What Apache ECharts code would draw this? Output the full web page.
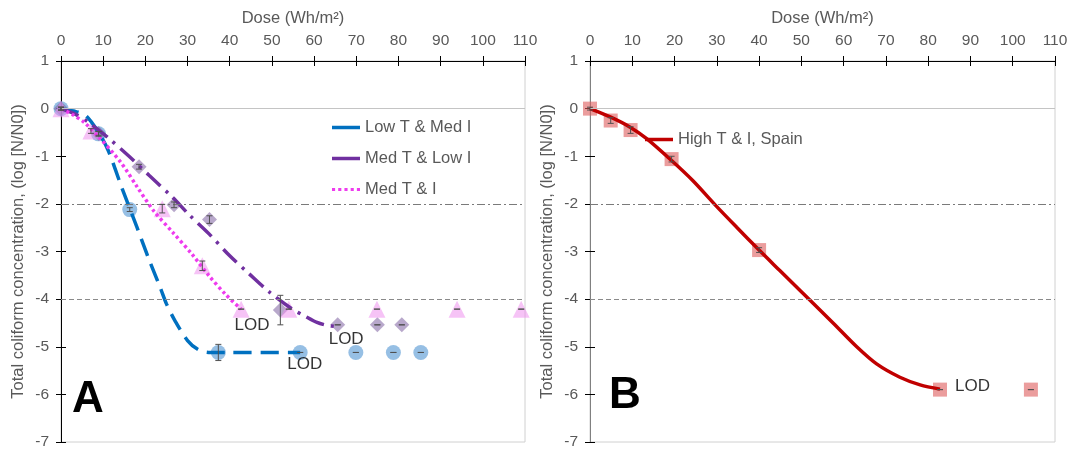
<!DOCTYPE html>
<html><head><meta charset="utf-8">
<script src="https://cdn.jsdelivr.net/npm/echarts@6/dist/echarts.min.js"></script>
<style>html,body{margin:0;padding:0;background:#fff}#c{width:1071px;height:450px}</style>
</head><body><div id="c"></div>
<script>
// ---------- axis settings ----------
const xMin = 0, xMax = 110, xStep = 10;
const yMin = -7, yMax = 1, yStep = 1;
const xName = 'Dose (Wh/m²)';
const yName = 'Total coliform concentration, (log [N/N0])';

// ---------- Panel A : measured points ----------
const lowX = [0, 8.9, 16.3, 37.3, 56.7, 69.9, 78.8, 85.3];
const lowY = [0, -0.53, -2.12, -5.12, -5.12, -5.12, -5.12, -5.12];
const lowErr = [0.03, 0.05, 0.04, 0.17, 0.0, 0.0, 0.0, 0.0];

const medLowX = [0, 8.9, 18.5, 26.8, 35.2, 52.0, 65.6, 75.0, 80.8];
const medLowY = [0, -0.52, -1.22, -2.02, -2.33, -4.23, -4.54, -4.54, -4.54];
const medLowErr = [0.03, 0.04, 0.05, 0.06, 0.08, 0.31, 0.0, 0.0, 0.0];

const medX = [0, 7.1, 24.0, 33.5, 42.7, 54.0, 74.9, 93.9, 109.1];
const medY = [0, -0.47, -2.1, -3.3, -4.21, -4.21, -4.21, -4.21, -4.21];
const medErr = [0.03, 0.05, 0.09, 0.1, 0.0, 0.0, 0.0, 0.0, 0.0];

// ---------- Panel A : fitted curves ----------
const lowFitX = [0, 3, 5.8, 8.9, 11.2, 14.5, 18, 21, 23.5, 25, 27, 30, 32.5, 35, 40, 56.7];
const lowFitY = [0, -0.05, -0.14, -0.5, -0.88, -1.68, -2.49, -3.2, -3.75, -4.1, -4.45, -4.87, -5.06, -5.12, -5.12, -5.12];

const medLowFitX = [0, 3.5, 7, 11, 16, 21, 26.4, 30.5, 35.1, 40, 44.5, 49.5, 54.8, 57.7, 60.7, 63, 65.5];
const medLowFitY = [0, -0.12, -0.32, -0.6, -0.99, -1.41, -1.86, -2.24, -2.63, -3.09, -3.46, -3.86, -4.21, -4.35, -4.49, -4.55, -4.58];

const medFitX = [0, 2.8, 5.5, 9, 14.2, 18.1, 22, 26.5, 31, 35, 39, 42.7];
const medFitY = [0, -0.13, -0.29, -0.6, -1.13, -1.65, -2.15, -2.6, -3.05, -3.5, -3.9, -4.21];

const lodAX = [45.3, 57.8, 67.6];
const lodAY = [-4.55, -5.36, -4.85];

// ---------- Panel B ----------
const spainX = [0, 4.9, 9.6, 19.3, 40.0, 82.8, 104.3];
const spainY = [0, -0.25, -0.45, -1.06, -2.97, -5.9, -5.9];
const spainErr = [0.03, 0.06, 0.07, 0.06, 0.05, 0.0, 0.0];

const spainFitX = [0, 4.9, 9.5, 13.4, 19.3, 24.3, 29.6, 34.7, 40, 44.9, 49.7, 52, 57.5, 63.1, 67.8, 73.3, 78.1, 82.8];
const spainFitY = [0, -0.18, -0.39, -0.63, -1.09, -1.51, -2.02, -2.49, -2.97, -3.4, -3.82, -4.02, -4.5, -5.0, -5.36, -5.64, -5.8, -5.89];

const lodBX = [90.5];
const lodBY = [-5.83];

// ---------- helpers ----------
const FONT = '"Liberation Sans", Arial, sans-serif';
const TXT = '#595959';
const zip = (a, b) => a.map((v, i) => [v, b[i]]);
const dotIcon = 'path://M0,0h3v3h-3z M6,0h3v3h-3z M12,0h3v3h-3z M18,0h3v3h-3z M24,0h3v3h-3z';

function mainX(gi) {
  return {
    type: 'value', gridIndex: gi, position: 'top', min: xMin, max: xMax, interval: xStep,
    name: xName, nameLocation: 'middle', nameGap: 34,
    nameTextStyle: { fontFamily: FONT, fontSize: 16.5, color: TXT },
    axisLine: { show: true, onZero: false, lineStyle: { color: '#000', width: 1 } },
    axisTick: { show: true, inside: false, length: 5, lineStyle: { color: '#000' } },
    axisLabel: { show: true, margin: 12, fontFamily: FONT, fontSize: 15.5, color: TXT },
    splitLine: { show: false }
  };
}
// inner half of the crossing ticks on the top axis (sits on the zero of a helper y axis, i.e. the top edge)
function secX(gi, helperY) {
  return {
    type: 'value', gridIndex: gi, position: 'bottom', min: xMin, max: xMax, interval: xStep,
    axisLine: { show: false, onZero: true, onZeroAxisIndex: helperY },
    axisLabel: { show: false }, splitLine: { show: false },
    axisTick: { show: true, inside: false, length: 5, lineStyle: { color: '#000' } }
  };
}
function mainY(gi, lineColor) {
  return {
    type: 'value', gridIndex: gi, position: 'left', min: yMin, max: yMax, interval: yStep,
    name: yName, nameLocation: 'middle', nameGap: 34,
    nameTextStyle: { fontFamily: FONT, fontSize: 16.5, color: TXT },
    axisLine: { show: true, onZero: false, lineStyle: { color: lineColor, width: 1 } },
    axisTick: { show: true, inside: false, length: 5, lineStyle: { color: '#000' } },
    axisLabel: { show: true, margin: 12, fontFamily: FONT, fontSize: 15.5, color: TXT },
    splitLine: { show: false }
  };
}
// inner half of the crossing ticks on the left axis (sits on x = 0)
function secY(gi, mainXIndex) {
  return {
    type: 'value', gridIndex: gi, position: 'right', min: yMin, max: yMax, interval: yStep,
    axisLine: { show: false, onZero: true, onZeroAxisIndex: mainXIndex },
    axisLabel: { show: false }, splitLine: { show: false },
    axisTick: { show: true, inside: false, length: 5, lineStyle: { color: '#000' } }
  };
}
function helperY(gi) {
  return { type: 'value', gridIndex: gi, show: false, min: -8, max: 0, position: 'left',
    axisLine: { onZero: false }, splitLine: { show: false } };
}
function errSeries(xi, xs, ys, es) {
  return {
    type: 'custom', xAxisIndex: xi, yAxisIndex: xi, silent: true, z: 6,
    encode: { x: 0, y: [1, 2] },
    data: xs.map((x, i) => [x, ys[i] - es[i], ys[i] + es[i]]),
    renderItem: (params, api) => {
      const lo = api.coord([api.value(0), api.value(1)]);
      const hi = api.coord([api.value(0), api.value(2)]);
      const w = 3;
      const st = { stroke: '#505050', lineWidth: 1 };
      return { type: 'group', children: [
        { type: 'line', shape: { x1: lo[0], y1: lo[1], x2: hi[0], y2: hi[1] }, style: st },
        { type: 'line', shape: { x1: lo[0] - w, y1: lo[1], x2: lo[0] + w, y2: lo[1] }, style: st },
        { type: 'line', shape: { x1: hi[0] - w, y1: hi[1], x2: hi[0] + w, y2: hi[1] }, style: st }
      ] };
    }
  };
}
function refLines() {
  return {
    silent: true, symbol: 'none', label: { show: false },
    data: [
      { yAxis: 0, lineStyle: { color: '#c4c4c4', width: 1, type: 'solid' } },
      { yAxis: -2, lineStyle: { color: '#7a7a7a', width: 1, type: [8, 3, 2, 3] } },
      { yAxis: -4, lineStyle: { color: '#8a8a8a', width: 1, type: [5, 3] } }
    ]
  };
}
function lodSeries(xi, xs, ys) {
  return {
    type: 'scatter', xAxisIndex: xi, yAxisIndex: xi, symbolSize: 0, silent: true, z: 7,
    data: zip(xs, ys),
    label: { show: true, position: 'inside', formatter: 'LOD', fontFamily: FONT, fontSize: 17, color: '#000' }
  };
}

const option = {
  animation: false,
  backgroundColor: '#fff',
  textStyle: { fontFamily: FONT },
  grid: [
    { left: 61, top: 61, width: 464, height: 381, show: true, borderColor: '#d0d0d0', borderWidth: 1, backgroundColor: 'transparent' },
    { left: 590, top: 61, width: 465, height: 381, show: true, borderColor: '#d0d0d0', borderWidth: 1, backgroundColor: 'transparent' }
  ],
  // x: 0 main A, 1 inner-ticks A, 2 main B, 3 inner-ticks B
  xAxis: [mainX(0), secX(0, 4), mainX(1), secX(1, 5)],
  // y: 0 main A, 1 inner-ticks A, 2 main B, 3 inner-ticks B, 4/5 hidden helpers
  yAxis: [mainY(0, '#000'), secY(0, 0), mainY(1, '#808080'), secY(1, 2), helperY(0), helperY(1)],
  legend: [
    {
      orient: 'vertical', left: 327, top: 114, itemWidth: 28, itemHeight: 3.5, itemGap: 14, selectedMode: false,
      textStyle: { fontFamily: FONT, fontSize: 16.5, color: TXT },
      data: [
        { name: 'Low T & Med I', icon: 'rect' },
        { name: 'Med T & Low I', icon: 'rect' },
        { name: 'Med T & I', icon: dotIcon }
      ]
    },
    {
      orient: 'vertical', left: 640, top: 126, itemWidth: 28, itemHeight: 3.5, selectedMode: false,
      textStyle: { fontFamily: FONT, fontSize: 16.5, color: TXT },
      data: [{ name: 'High T & I, Spain', icon: 'rect' }]
    }
  ],
  graphic: [
    { type: 'text', left: 72, top: 378, style: { text: 'A', font: 'bold 44px ' + FONT, fill: '#000' } },
    { type: 'text', left: 609, top: 374, style: { text: 'B', font: 'bold 44px ' + FONT, fill: '#000' } }
  ],
  series: [
    // panel A points
    { type: 'scatter', name: 'Low T pts', xAxisIndex: 0, yAxisIndex: 0, symbol: 'circle', symbolSize: 15, z: 2,
      itemStyle: { color: 'rgba(91,155,213,0.8)' }, data: zip(lowX, lowY), markLine: refLines() },
    { type: 'scatter', name: 'Med Low pts', xAxisIndex: 0, yAxisIndex: 0, symbol: 'diamond', symbolSize: 15, z: 2,
      itemStyle: { color: 'rgba(128,100,162,0.7)' }, data: zip(medLowX, medLowY) },
    { type: 'scatter', name: 'Med pts', xAxisIndex: 0, yAxisIndex: 0, symbol: 'triangle', symbolSize: 17, z: 2,
      itemStyle: { color: 'rgba(238,140,238,0.65)' }, data: zip(medX, medY) },
    errSeries(0, lowX, lowY, lowErr),
    errSeries(0, medLowX, medLowY, medLowErr),
    errSeries(0, medX, medY, medErr),
    // panel A curves
    { type: 'line', name: 'Low T & Med I', xAxisIndex: 0, yAxisIndex: 0, smooth: 0.3, symbol: 'none', z: 4,
      lineStyle: { color: '#0070C0', width: 3.5, type: [18, 9] }, itemStyle: { color: '#0070C0' },
      data: zip(lowFitX, lowFitY) },
    { type: 'line', name: 'Med T & Low I', xAxisIndex: 0, yAxisIndex: 0, smooth: 0.3, symbol: 'none', z: 4,
      lineStyle: { color: '#7030A0', width: 3.5, type: [19, 7, 3, 7] }, itemStyle: { color: '#7030A0' },
      data: zip(medLowFitX, medLowFitY) },
    { type: 'line', name: 'Med T & I', xAxisIndex: 0, yAxisIndex: 0, smooth: 0.3, symbol: 'none', z: 4,
      lineStyle: { color: '#EE3BEE', width: 3.5, type: [3, 3] }, itemStyle: { color: '#EE3BEE' },
      data: zip(medFitX, medFitY) },
    lodSeries(0, lodAX, lodAY),
    // panel B
    { type: 'scatter', name: 'Spain pts', xAxisIndex: 2, yAxisIndex: 2, symbol: 'rect', symbolSize: 14, z: 2,
      itemStyle: { color: 'rgba(222,92,92,0.75)' }, data: zip(spainX, spainY), markLine: refLines() },
    errSeries(2, spainX, spainY, spainErr),
    { type: 'line', name: 'High T & I, Spain', xAxisIndex: 2, yAxisIndex: 2, smooth: 0.3, symbol: 'none', z: 4,
      lineStyle: { color: '#C00000', width: 3.5 }, itemStyle: { color: '#C00000' },
      data: zip(spainFitX, spainFitY) },
    lodSeries(2, lodBX, lodBY)
  ]
};
const chart = echarts.init(document.getElementById('c'), null, { renderer: 'canvas' });
chart.setOption(option);
</script>
</body></html>
